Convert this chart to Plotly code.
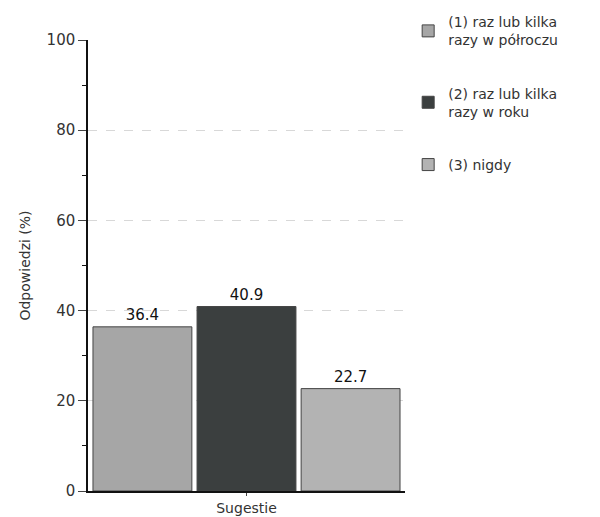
import plotly.graph_objects as go

categories = ["Sugestie"]
series_names = ["(1) raz lub kilka<br>razy w półroczu", "(2) raz lub kilka<br>razy w roku", "(3) nigdy"]
series_values = [36.4, 40.9, 22.7]
value_labels = ["36.4", "40.9", "22.7"]
colors = ["#a6a6a6", "#3b3f3f", "#b3b3b3"]
y_ticks = [0, 20, 40, 60, 80, 100]

fig = go.Figure()
for i, (name, v, lab, c) in enumerate(zip(series_names, series_values, value_labels, colors)):
    fig.add_trace(go.Bar(
        x=categories, y=[v], name=name, text=[lab], textposition="outside",
        textfont=dict(size=15, color="#111"),
        marker=dict(color=c, line=dict(color="#444", width=1)),
        legendgroup=f"g{i}", cliponaxis=False,
    ))

fig.update_layout(
    width=592, height=509,
    margin=dict(l=80, r=195, t=32, b=26, autoexpand=False),
    plot_bgcolor="white", paper_bgcolor="white",
    barmode="group", bargap=0.015, bargroupgap=0.05,
    font=dict(family="DejaVu Sans", size=14, color="#222"),
    showlegend=True,
    legend=dict(x=1.01, y=1.075, xanchor="left", yanchor="top",
                tracegroupgap=32, font=dict(size=14, color="#333"),
                itemwidth=30, bgcolor="rgba(0,0,0,0)"),
    yaxis=dict(range=[0, 100], tickvals=y_ticks, ticks="outside", ticklen=8,
               showline=True, linecolor="#111", linewidth=1.5,
               showgrid=True, gridcolor="#d8d8d8", griddash="dash",
               minor=dict(dtick=10, ticks="outside", ticklen=4, tickcolor="#111", showgrid=False),
               tickfont=dict(size=15, color="#333"),
               title=dict(text="Odpowiedzi (%)", font=dict(size=14, color="#333"), standoff=13),
               zeroline=False),
    xaxis=dict(showline=True, linecolor="#111", linewidth=1.5, ticks="outside", ticklen=3,
               tickfont=dict(size=14, color="#333")),
)

fig.write_html("out.html")
